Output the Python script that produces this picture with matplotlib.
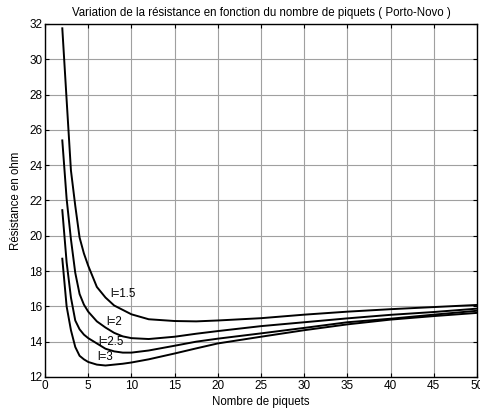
import numpy as np
import matplotlib
matplotlib.use("Agg")
import matplotlib.pyplot as plt

plt.rcParams['font.family'] = ['Liberation Sans', 'DejaVu Sans']

# nombre de piquets
n_piquets = [2, 2.5, 3, 3.5, 4, 4.5, 5, 6, 7, 8, 9, 10, 12, 15, 17.5, 20,
             25, 30, 35, 40, 45, 50]

# résistance (ohm) pour chaque longueur de piquet
r_l15 = [31.75, 27.7, 23.7, 21.7, 19.9, 19.0, 18.3, 17.1, 16.5, 16.05, 15.8,
         15.55, 15.27, 15.17, 15.15, 15.2, 15.33, 15.53, 15.7, 15.84, 15.96, 16.08]
r_l2 = [25.4, 22.1, 19.8, 17.9, 16.7, 16.1, 15.7, 15.15, 14.8, 14.5, 14.3,
        14.2, 14.15, 14.28, 14.45, 14.6, 14.88, 15.1, 15.32, 15.52, 15.68, 15.87]
r_l25 = [21.45, 18.5, 16.5, 15.2, 14.7, 14.4, 14.2, 13.9, 13.6, 13.45, 13.38,
         13.38, 13.5, 13.77, 14.0, 14.17, 14.47, 14.78, 15.1, 15.3, 15.53, 15.75]
r_l3 = [18.7, 16.0, 14.65, 13.7, 13.2, 13.0, 12.85, 12.7, 12.65, 12.7, 12.75,
        12.82, 13.0, 13.33, 13.62, 13.9, 14.28, 14.65, 14.98, 15.25, 15.45, 15.63]

labels = ['l=1.5', 'l=2', 'l=2.5', 'l=3']
label_pos = [(7.5, 16.7), (7.1, 15.13), (6.15, 14.0), (6.0, 13.13)]

fig = plt.figure(figsize=(4.81, 4.12), dpi=100)
ax = fig.add_axes([0.0936, 0.085, 0.898, 0.857])

for r in (r_l15, r_l2, r_l25, r_l3):
    ax.plot(n_piquets, r, color='black', lw=1.4)

for txt, (x, y) in zip(labels, label_pos):
    ax.text(x, y, txt, fontsize=8.3, va='center', ha='left')

ax.set_xlim(0, 50)
ax.set_ylim(12, 32)
ax.set_xticks(np.arange(0, 51, 5))
ax.set_yticks(np.arange(12, 33, 2))
ax.grid(True, color='#a0a0a0', lw=0.8, ls='-')
ax.set_axisbelow(True)
ax.tick_params(direction='in', top=True, right=True, labelsize=8.5,
               length=3, width=0.8, pad=2)
for s in ax.spines.values():
    s.set_linewidth(1.0)

ax.set_title('Variation de la résistance en fonction du nombre de piquets ( Porto-Novo )',
             fontsize=8.3, pad=6)
ax.set_xlabel('Nombre de piquets', fontsize=8.3, labelpad=3)
ax.set_ylabel('Résistance en ohm', fontsize=8.3, labelpad=5)

fig.savefig('out.png', dpi=100)
